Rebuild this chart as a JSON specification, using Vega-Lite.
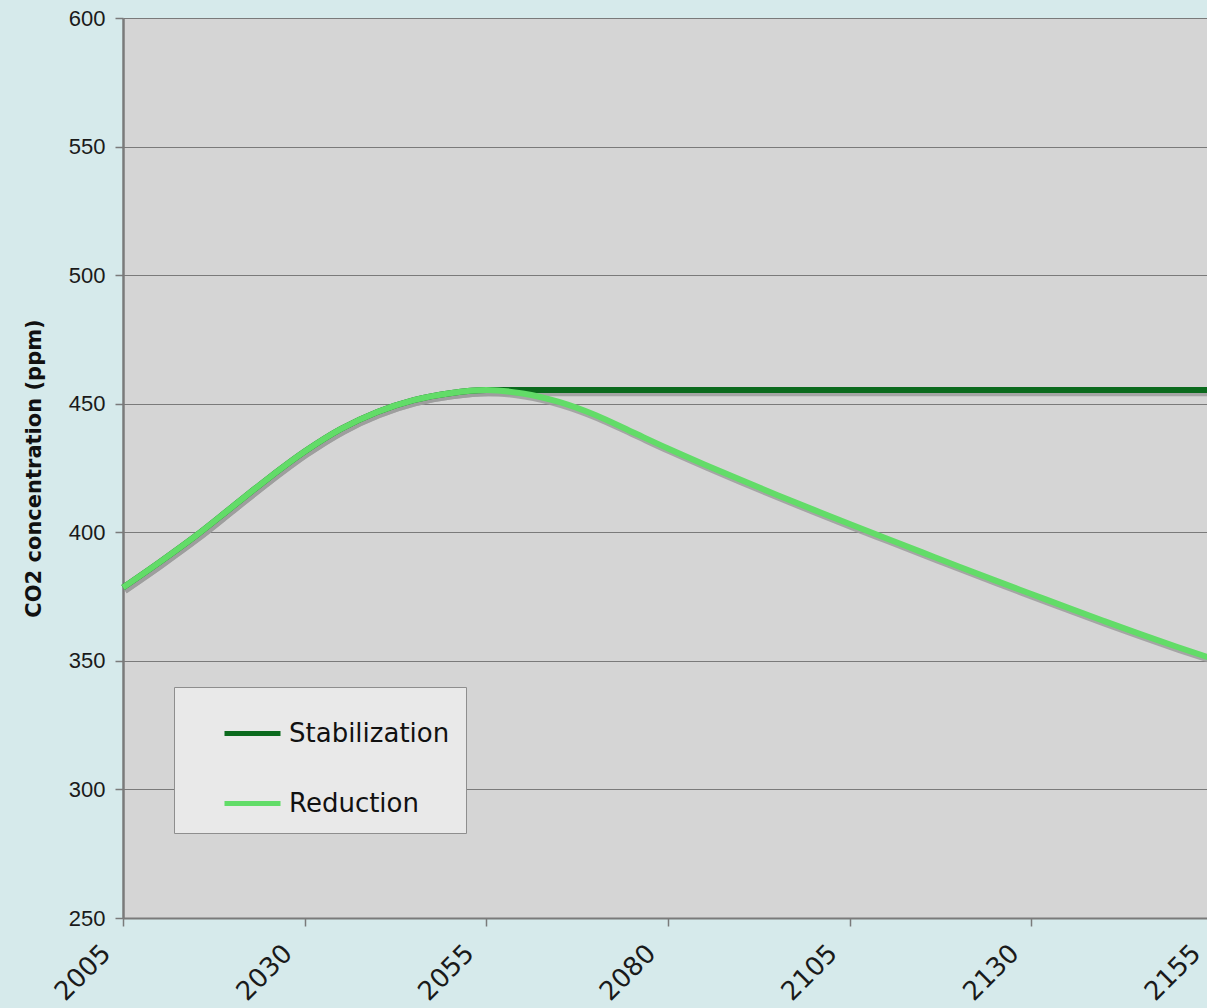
{
  "$schema": "https://vega.github.io/schema/vega-lite/v6.json",
  "width": 1090,
  "height": 900,
  "autosize": {"type": "none"},
  "padding": {"left": 123, "top": 18, "right": -6, "bottom": 90},
  "background": "#d6eaeb",
  "config": {
    "view": {"fill": "#d5d5d5", "stroke": null},
    "font": "Liberation Sans"
  },
  "data": {
    "values": [
      {"year": 2005, "ppm": 378.5, "series": "Stabilization"},
      {"year": 2010, "ppm": 388.3, "series": "Stabilization"},
      {"year": 2015, "ppm": 398.6, "series": "Stabilization"},
      {"year": 2020, "ppm": 409.8, "series": "Stabilization"},
      {"year": 2025, "ppm": 421, "series": "Stabilization"},
      {"year": 2030, "ppm": 431.4, "series": "Stabilization"},
      {"year": 2035, "ppm": 440.2, "series": "Stabilization"},
      {"year": 2040, "ppm": 446.8, "series": "Stabilization"},
      {"year": 2045, "ppm": 451.4, "series": "Stabilization"},
      {"year": 2050, "ppm": 454.1, "series": "Stabilization"},
      {"year": 2055, "ppm": 455.3, "series": "Stabilization"},
      {"year": 2060, "ppm": 455.3, "series": "Stabilization"},
      {"year": 2080, "ppm": 455.3, "series": "Stabilization"},
      {"year": 2105, "ppm": 455.3, "series": "Stabilization"},
      {"year": 2130, "ppm": 455.3, "series": "Stabilization"},
      {"year": 2155, "ppm": 455.3, "series": "Stabilization"},
      {"year": 2005, "ppm": 378.5, "series": "Reduction"},
      {"year": 2010, "ppm": 388.3, "series": "Reduction"},
      {"year": 2015, "ppm": 398.6, "series": "Reduction"},
      {"year": 2020, "ppm": 409.8, "series": "Reduction"},
      {"year": 2025, "ppm": 421, "series": "Reduction"},
      {"year": 2030, "ppm": 431.4, "series": "Reduction"},
      {"year": 2035, "ppm": 440.2, "series": "Reduction"},
      {"year": 2040, "ppm": 446.8, "series": "Reduction"},
      {"year": 2045, "ppm": 451.4, "series": "Reduction"},
      {"year": 2050, "ppm": 454.1, "series": "Reduction"},
      {"year": 2055, "ppm": 455.3, "series": "Reduction"},
      {"year": 2060, "ppm": 454.0, "series": "Reduction"},
      {"year": 2065, "ppm": 450.7, "series": "Reduction"},
      {"year": 2070, "ppm": 445.6, "series": "Reduction"},
      {"year": 2075, "ppm": 439.1, "series": "Reduction"},
      {"year": 2080, "ppm": 432.6, "series": "Reduction"},
      {"year": 2085, "ppm": 426.4, "series": "Reduction"},
      {"year": 2090, "ppm": 420.4, "series": "Reduction"},
      {"year": 2095, "ppm": 414.5, "series": "Reduction"},
      {"year": 2100, "ppm": 408.8, "series": "Reduction"},
      {"year": 2105, "ppm": 403.2, "series": "Reduction"},
      {"year": 2110, "ppm": 397.7, "series": "Reduction"},
      {"year": 2115, "ppm": 392.2, "series": "Reduction"},
      {"year": 2120, "ppm": 386.7, "series": "Reduction"},
      {"year": 2125, "ppm": 381.3, "series": "Reduction"},
      {"year": 2130, "ppm": 376.0, "series": "Reduction"},
      {"year": 2135, "ppm": 370.7, "series": "Reduction"},
      {"year": 2140, "ppm": 365.5, "series": "Reduction"},
      {"year": 2145, "ppm": 360.4, "series": "Reduction"},
      {"year": 2150, "ppm": 355.5, "series": "Reduction"},
      {"year": 2155, "ppm": 350.8, "series": "Reduction"}
    ]
  },
  "layer": [
    {
      "description": "soft drop shadow under each curve, drawn on slightly shifted scales",
      "mark": {"type": "line", "color": "#9c9c9c", "strokeWidth": 6, "interpolate": "monotone", "opacity": 0.85},
      "encoding": {
        "x": {"field": "year", "type": "quantitative", "scale": {"domain": [2004.72, 2154.72], "nice": false, "zero": false}, "axis": null},
        "y": {"field": "ppm", "type": "quantitative", "scale": {"domain": [251.2, 601.2], "nice": false, "zero": false}, "axis": null},
        "detail": {"field": "series"},
        "order": {"field": "year"}
      }
    },
    {
      "mark": {"type": "line", "strokeWidth": 6, "interpolate": "monotone"},
      "encoding": {
        "x": {
          "field": "year", "type": "quantitative",
          "scale": {"domain": [2005, 2155], "nice": false, "zero": false},
          "axis": {
            "title": null,
            "values": [2005, 2030, 2055, 2080, 2105, 2130, 2155],
            "format": "d",
            "labelAngle": -45,
            "labelAlign": "right",
            "labelBaseline": "middle",
            "labelFont": "DejaVu Sans",
            "labelFontSize": 26,
            "labelColor": "#1a1a1a",
            "labelPadding": 23,
            "labelOffset": -17,
            "grid": false,
            "domainColor": "#7a7a7a",
            "domainWidth": 2,
            "tickColor": "#7a7a7a",
            "tickWidth": 1.5,
            "tickSize": 8,
            "labelOverlap": false,
            "labelFlush": false,
            "labelBound": false
          }
        },
        "y": {
          "field": "ppm", "type": "quantitative",
          "scale": {"domain": [250, 600], "nice": false, "zero": false},
          "axis": {
            "title": "CO2 concentration (ppm)",
            "titleFont": "DejaVu Sans",
            "titleFontSize": 21,
            "titleFontWeight": "bold",
            "titleColor": "#111111",
            "titlePadding": 24,
            "values": [250, 300, 350, 400, 450, 500, 550, 600],
            "labelFontSize": 22,
            "labelColor": "#1a1a1a",
            "labelPadding": 10,
            "grid": true,
            "gridColor": "#7a7a7a",
            "gridWidth": 1.2,
            "domainColor": "#7a7a7a",
            "domainWidth": 2.5,
            "tickColor": "#7a7a7a",
            "tickWidth": 1.5,
            "tickSize": 8
          }
        },
        "color": {
          "field": "series", "type": "nominal",
          "scale": {"domain": ["Stabilization", "Reduction"], "range": ["#0b6a1d", "#62dc68"]},
          "legend": {
            "title": null,
            "orient": "none",
            "legendX": 51,
            "legendY": 669,
            "direction": "vertical",
            "symbolType": "stroke",
            "symbolSize": 3136,
            "symbolStrokeWidth": 5,
            "symbolOffset": 32,
            "labelFont": "DejaVu Sans",
            "labelFontSize": 26,
            "labelLimit": 400,
            "labelColor": "#111111",
            "labelOffset": 6,
            "rowPadding": 26,
            "padding": 16,
            "fillColor": "#e9e9e9",
            "strokeColor": "#8e8e8e"
          }
        },
        "order": {"field": "year"}
      }
    }
  ],
  "resolve": {"scale": {"x": "independent", "y": "independent"}}
}
